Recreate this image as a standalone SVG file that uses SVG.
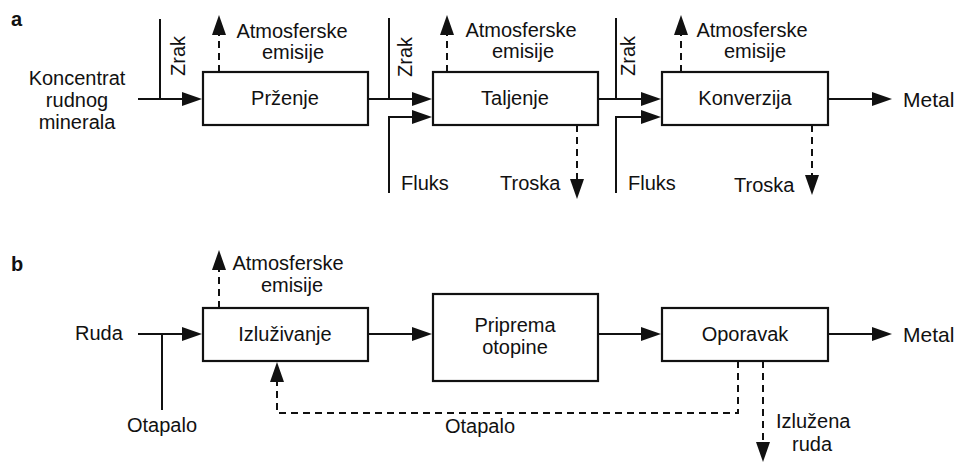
<svg xmlns="http://www.w3.org/2000/svg" width="959" height="465" viewBox="0 0 959 465">
<defs>
<marker id="ah" markerUnits="userSpaceOnUse" markerWidth="21" markerHeight="15" refX="11" refY="7" orient="auto">
<path d="M0,0 L20,7 L0,14 z" fill="#111"/>
</marker>
<style>
text{font-family:"Liberation Sans",Arial,sans-serif;font-size:20px;fill:#111}
.m{text-anchor:middle}
.b{font-weight:bold}
.big{font-size:21px}
.box{fill:#fff;stroke:#111;stroke-width:2.2}
.ln{fill:none;stroke:#111;stroke-width:2}
.ds{fill:none;stroke:#111;stroke-width:2;stroke-dasharray:7,5}
.ar{marker-end:url(#ah)}
</style>
</defs>
<rect width="959" height="465" fill="#fff"/>
<text x="11" y="26" class="b">a</text>
<text x="11" y="271" class="b">b</text>
<g id="connectors">
<path class="ln ar" d="M138,99 H193"/>
<path class="ln" d="M160,19 V99"/>
<path class="ds ar" d="M219,72 V24"/>
<path class="ln ar" d="M368,99 H423"/>
<path class="ln" d="M389,18 V99"/>
<path class="ln ar" d="M389,193 V117 H423"/>
<path class="ds ar" d="M447,72 V24"/>
<path class="ds ar" d="M577,125 V190"/>
<path class="ln ar" d="M598,99 H652"/>
<path class="ln" d="M616,18 V99"/>
<path class="ln ar" d="M616,193 V117 H652"/>
<path class="ds ar" d="M681,72 V24"/>
<path class="ds ar" d="M812,125 V186"/>
<path class="ln ar" d="M828,99 H883"/>
<path class="ln ar" d="M138,334 H193"/>
<path class="ln" d="M162,334 V410"/>
<path class="ds ar" d="M219,308 V259"/>
<path class="ln ar" d="M368,334 H423"/>
<path class="ln ar" d="M598,334 H652"/>
<path class="ln ar" d="M828,334 H883"/>
<path class="ds ar" d="M738,361 V413 H277 V371"/>
<path class="ds ar" d="M763,361 V453"/>
</g>
<g id="przenje"><rect class="box" x="203" y="72" width="165" height="53"/><text x="285" y="105" class="m">Prženje</text></g>
<g id="taljenje"><rect class="box" x="433" y="72" width="165" height="53"/><text x="515" y="105" class="m">Taljenje</text></g>
<g id="konverzija"><rect class="box" x="662" y="72" width="166" height="53"/><text x="745" y="105" class="m">Konverzija</text></g>
<g id="izluzivanje"><rect class="box" x="203" y="308" width="165" height="53"/><text x="285" y="341" class="m">Izluživanje</text></g>
<g id="priprema"><rect class="box" x="433" y="294" width="165" height="87"/><text x="515" y="332" class="m">Priprema</text><text x="515" y="354" class="m">otopine</text></g>
<g id="oporavak"><rect class="box" x="662" y="308" width="166" height="53"/><text x="745" y="341" class="m">Oporavak</text></g>
<g id="labels">
<text x="77" y="85" class="m">Koncentrat</text>
<text x="77" y="107" class="m">rudnog</text>
<text x="77" y="129" class="m">minerala</text>
<text transform="translate(185,56) rotate(-90)" class="m">Zrak</text>
<text transform="translate(412,57) rotate(-90)" class="m">Zrak</text>
<text transform="translate(635,56) rotate(-90)" class="m">Zrak</text>
<text x="292" y="38" class="m">Atmosferske</text>
<text x="293" y="59" class="m">emisije</text>
<text x="521" y="37" class="m">Atmosferske</text>
<text x="523" y="58" class="m">emisije</text>
<text x="752" y="37" class="m">Atmosferske</text>
<text x="755" y="58" class="m">emisije</text>
<text x="401" y="190">Fluks</text>
<text x="500" y="190">Troska</text>
<text x="628" y="190">Fluks</text>
<text x="734" y="192">Troska</text>
<text x="903" y="107" class="big">Metal</text>
<text x="75" y="340">Ruda</text>
<text x="162" y="432" class="m">Otapalo</text>
<text x="288" y="270" class="m">Atmosferske</text>
<text x="292" y="292" class="m">emisije</text>
<text x="480" y="433" class="m">Otapalo</text>
<text x="903" y="342" class="big">Metal</text>
<text x="776" y="428">Izlužena</text>
<text x="812" y="451" class="m">ruda</text>
</g>
</svg>
